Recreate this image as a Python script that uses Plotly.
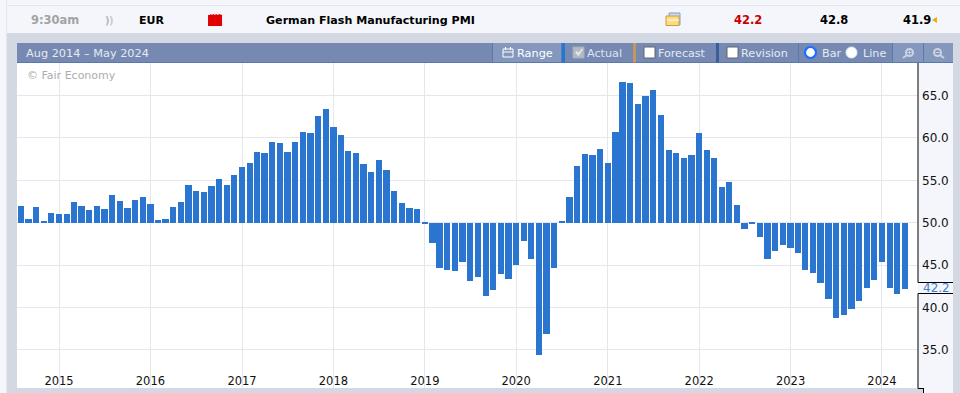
import plotly.graph_objects as go
import pandas as pd

W, H = 960, 393

months = pd.date_range("2014-08-01", "2024-04-01", freq="MS").strftime("%Y-%m-%d").tolist()

values_2014_2016 = [52.0, 50.4, 51.8, 50.1, 51.2, 51.0, 51.0, 52.4, 52.0, 51.5, 52.0, 51.6, 53.3, 52.6, 51.7, 52.7,
                    53.0, 52.2, 50.3, 50.4, 51.9, 52.4, 54.4, 53.7, 53.6, 54.3, 55.2, 54.4, 55.6]
values_2017_2018 = [56.6, 57.0, 58.3, 58.2, 59.5, 59.4, 58.3, 59.5, 60.7, 60.6, 62.6, 63.4, 61.3, 60.4, 58.5, 58.2,
                    56.9, 56.0, 57.4, 56.2, 53.7, 52.3, 51.7, 51.6]
values_2019_2020 = [49.9, 47.6, 44.7, 44.4, 44.3, 45.4, 43.1, 43.6, 41.4, 42.0, 43.9, 43.4, 45.0, 47.8, 45.7, 34.4,
                    36.8, 44.6, 50.1, 53.0, 56.7, 58.1, 58.0, 58.7]
values_2021_2022 = [57.1, 60.7, 66.6, 66.5, 64.0, 65.0, 65.7, 62.7, 58.6, 58.2, 57.6, 58.0, 60.6, 58.6, 57.6, 54.2,
                    54.8, 52.1, 49.2, 49.8, 48.3, 45.7, 46.7, 47.4]
values_2023_2024 = [47.0, 46.4, 44.4, 44.0, 42.9, 41.0, 38.8, 39.1, 39.8, 40.7, 42.3, 43.2, 45.4, 42.3, 41.6, 42.2]
actual = values_2014_2016 + values_2017_2018 + values_2019_2020 + values_2021_2022 + values_2023_2024

y_ticks = [35, 40, 45, 50, 55, 60, 65]
y_tick_labels = ["35.0", "40.0", "45.0", "50.0", "55.0", "60.0", "65.0"]
x_ticks = ["%d-01-01" % y for y in range(2015, 2025)]
x_tick_labels = [str(y) for y in range(2015, 2025)]
baseline = 50
latest = "42.2"

DEJAVU = "DejaVu Sans"
GRID = "#e6e6ef"
BAR = "#2a75cf"
HDR = "#7589b3"
HDR_LT = "#8497bd"
GREY = "#d3d8e2"
LIGHT = "#f4f6fb"

shapes, notes = [], []


def X(p):
    return p / W


def Y(p):
    return 1 - p / H


def rect(x0, y0, x1, y1, fill, line=None, lw=0, layer="below"):
    shapes.append(dict(type="rect", xref="paper", yref="paper", x0=X(x0), x1=X(x1), y0=Y(y0), y1=Y(y1),
                       fillcolor=fill, layer=layer, line=dict(color=line or fill, width=lw)))


def seg(x0, y0, x1, y1, color, lw=1, layer="above"):
    shapes.append(dict(type="line", xref="paper", yref="paper", x0=X(x0), x1=X(x1), y0=Y(y0), y1=Y(y1),
                       layer=layer, line=dict(color=color, width=lw)))


def circ(x0, y0, x1, y1, fill, line, lw=1):
    shapes.append(dict(type="circle", xref="paper", yref="paper", x0=X(x0), x1=X(x1), y0=Y(y0), y1=Y(y1),
                       fillcolor=fill, layer="above", line=dict(color=line, width=lw)))


def poly(points, fill, line=None):
    path = "M " + " L ".join("%.4f %.4f" % (X(a), Y(b)) for a, b in points) + " Z"
    shapes.append(dict(type="path", xref="paper", yref="paper", path=path, fillcolor=fill, layer="above",
                       line=dict(color=line or fill, width=1 if line else 0)))


def text(x, y, s, size=12, color="#000", bold=False, anchor="left", family=DEJAVU):
    notes.append(dict(xref="paper", yref="paper", x=X(x), y=Y(y), text="<b>%s</b>" % s if bold else s,
                      showarrow=False, xanchor=anchor, yanchor="middle", borderpad=0, borderwidth=0,
                      font=dict(family=family, size=size, color=color)))


# page backgrounds
rect(0, 0, W, H, GREY)
rect(0, 0, 7, H, LIGHT)
rect(7, 0, W, 33, LIGHT)
seg(7, 5.5, W, 5.5, "#e4e6ee", layer="below")
seg(6.5, 0, 6.5, H, "#e6e8ef", layer="below")

# white plot area
rect(17, 63, 918, 388, "#ffffff")

# right value panel
rect(918, 63, 953, H, LIGHT)
rect(918, 388, 923, H, GREY)
seg(918, 63, 918, 282.5, "#000")
seg(918, 293.5, 918, 388.5, "#000")
seg(918, 388.5, 923.5, 388.5, "#000")
seg(923.5, 388, 923.5, H, "#000")
seg(918, 282.5, 953, 282.5, "#000")
seg(918, 293.5, 953, 293.5, "#000")

# event row
text(31, 20, "9:30am", 11.5, "#a3a3a3", True)
text(105, 20, ")", 10, "#b5b8c0", True)
text(109, 20, ")", 10, "#c8cbd2", True)
text(139, 20, "EUR", 11, "#000", True)
poly([(208, 26), (208, 15), (210, 15), (210, 14), (212, 15), (213, 14), (215, 15), (216, 14), (218, 15), (219, 14),
      (222, 15), (222, 26)], "#e00000")
text(266, 20, "German Flash Manufacturing PMI", 11.1, "#000", True)
rect(669, 13, 680, 25, "#c8d8f0", "#7f9fd0", 1, "above")
rect(666, 16, 679, 25.5, "#fbdc7e", "#d99a3c", 1, "above")
seg(667, 20, 679, 20, "#fff")
text(734, 20, "42.2", 11.5, "#c80000", True)
text(820, 20, "42.8", 11.5, "#000", True)
text(903, 20, "41.9", 11.5, "#000", True)
poly([(937, 17), (937, 23), (932, 20)], "#f5a800")

# toolbar
rect(17, 43, 953, 62.5, HDR)
seg(17, 62.5, 953, 62.5, "#5a78ab")
rect(493, 43, 561, 62.5, HDR_LT)
rect(892, 43, 953, 62.5, HDR_LT)
seg(492.5, 43, 492.5, 62.5, "#5a78ab")
rect(561.5, 43, 565, 62.5, BAR, layer="above")
rect(633, 43, 636, 62.5, "#c9955f", layer="above")
rect(716, 43, 719, 62.5, "#3c5c9a", layer="above")
seg(798.5, 43, 798.5, 62.5, "#5a78ab")
seg(892.5, 43, 892.5, 62.5, "#5a78ab")
seg(923.5, 43, 923.5, 62.5, "#5a78ab")
text(26, 53, "Aug 2014 – May 2024", 11.3, "#e6e9f1")
rect(503, 49, 513, 57, HDR_LT, "#fff", 1, "above")
seg(503, 52, 513, 52, "#fff")
seg(505.5, 47, 505.5, 50, "#fff")
seg(510.5, 47, 510.5, 50, "#fff")
text(517, 53, "Range", 11.3, "#fff", False)
rect(573, 47, 584, 58, "#b5b9c4", "#a8adba", 1, "above")
poly([(575, 52.5), (577, 51), (578.5, 53), (582, 48.5), (583, 49.5), (578.5, 56), (575, 52.5)], "#e6e8ee")
text(587, 53, "Actual", 11.2, "#dfe3ec")
rect(644, 47, 655, 58, "#fff", "#666", 1, "above")
text(658, 53, "Forecast", 11.1, "#e6e9f1")
rect(727, 47, 738, 58, "#fff", "#666", 1, "above")
text(741, 53, "Revision", 11.2, "#e6e9f1")
circ(805, 47, 816, 58, "#fff", "#1f6fff", 2.2)
text(822, 53, "Bar", 11.2, "#e6e9f1")
circ(846, 47, 857, 58, "#fff", "#e6e9f1", 1)
text(863, 53, "Line", 11.2, "#e6e9f1")
circ(906, 49, 913, 56, "rgba(0,0,0,0)", "#ccd3e2", 2)
seg(903, 58, 907, 55, "#ccd3e2", 2)
seg(907.5, 52.5, 911.5, 52.5, "#ccd3e2", 1)
seg(909.5, 50.5, 909.5, 54.5, "#ccd3e2", 1)
circ(934, 49, 941, 56, "rgba(0,0,0,0)", "#ccd3e2", 2)
seg(940, 55, 944, 58, "#ccd3e2", 2)
seg(935.5, 52.5, 939.5, 52.5, "#ccd3e2", 1)

# chart notes
text(27, 76, "© Fair Economy", 11, "#adadad")
text(949.5, 288, latest, 12, "#3f7fd0", anchor="right")

fig = go.Figure(go.Bar(
    x=months,
    y=[v - baseline for v in actual],
    base=baseline,
    width=25 * 86400000,
    marker=dict(color=BAR, line=dict(width=0)),
    hoverinfo="skip",
))

fig.update_layout(
    width=W, height=H,
    margin=dict(l=0, r=0, t=0, b=0),
    autosize=False,
    showlegend=False,
    paper_bgcolor=GREY,
    plot_bgcolor="#ffffff",
    shapes=shapes,
    annotations=notes,
    xaxis=dict(
        domain=[17 / W, 918 / W],
        type="date",
        range=["2014-07-17", "2024-05-24"],
        tickmode="array",
        tickvals=x_ticks,
        ticktext=x_tick_labels,
        showgrid=True, gridcolor=GRID, gridwidth=1,
        showline=False, zeroline=False, ticks="",
        tickfont=dict(family=DEJAVU, size=11.5, color="#111"),
        ticklabelposition="inside",
        ticklabelstandoff=-2,
    ),
    yaxis=dict(
        domain=[(H - 388) / H, (H - 63) / H],
        range=[30.48, 68.85],
        side="right",
        tickmode="array",
        tickvals=y_ticks,
        ticktext=y_tick_labels,
        showgrid=True, gridcolor=GRID, gridwidth=1,
        showline=False, zeroline=False, ticks="",
        ticklabelstandoff=3,
        tickfont=dict(family=DEJAVU, size=12, color="#111"),
    ),
    bargap=0,
)

fig.write_html("out.html", config=dict(displayModeBar=False),
               post_script="document.body.style.margin='0';document.body.style.overflow='hidden';")
